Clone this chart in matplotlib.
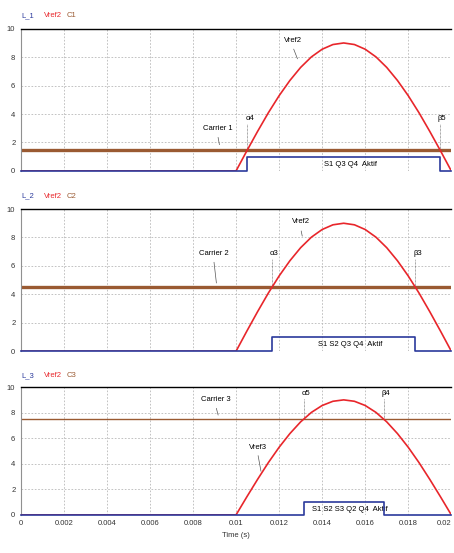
import matplotlib
matplotlib.use('Agg')
import matplotlib.pyplot as plt

# half-wave of the reference signal (time in s, value)
ref_time = [0.0, 0.0095, 0.0100, 0.0105, 0.0110, 0.0115, 0.0120, 0.0125, 0.0130,
            0.0135, 0.0140, 0.0145, 0.0150, 0.0155, 0.0160, 0.0165, 0.0170,
            0.0175, 0.0180, 0.0185, 0.0190, 0.0195, 0.0200]
ref_value = [0.0, 0.0, 0.0, 1.41, 2.78, 4.09, 5.29, 6.36, 7.28, 8.02, 8.56, 8.89, 9.0,
             8.89, 8.56, 8.02, 7.28, 6.36, 5.29, 4.09, 2.78, 1.41, 0.0]

carrier_levels = [1.5, 4.5, 7.5]
pulse_start = [0.01053, 0.01167, 0.01314]
pulse_end = [0.01947, 0.01833, 0.01686]
pulse_height = 1.0

legend_names = [['L_1', 'Vref2', 'C1'], ['L_2', 'Vref2', 'C2'], ['L_3', 'Vref2', 'C3']]
carrier_names = ['Carrier 1', 'Carrier 2', 'Carrier 3']
ref_names = ['Vref2', 'Vref2', 'Vref3']
alpha_names = ['\u03b14', '\u03b13', '\u03b15']
beta_names = ['\u03b25', '\u03b23', '\u03b24']
active_names = ['S1 Q3 Q4  Aktif', 'S1 S2 Q3 Q4  Aktif', 'S1 S2 S3 Q2 Q4  Aktif']

x_ticks = [0, 0.002, 0.004, 0.006, 0.008, 0.01, 0.012, 0.014, 0.016, 0.018, 0.02]
x_tick_labels = ['0', '0.002', '0.004', '0.006', '0.008', '0.01', '0.012', '0.014',
                 '0.016', '0.018', '0.02']
y_ticks = [0, 2, 4, 6, 8, 10]

RED = '#e8262b'
BLUE = '#2b3a9c'
BROWN = '#9a5a32'
FONT = ['Liberation Sans Narrow', 'Liberation Sans', 'DejaVu Sans']

plt.rcParams['font.family'] = FONT
plt.rcParams['font.size'] = 5.5

fig = plt.figure(figsize=(4.54, 5.53), dpi=100)
boxes = [[0.046, 0.691, 0.948, 0.257],
         [0.046, 0.365, 0.948, 0.257],
         [0.046, 0.069, 0.948, 0.231]]

# where the label texts sit in each panel (t, value)
carrier_text = [(0.00914, 3.0), (0.00896, 6.9), (0.00905, 9.0)]
carrier_tip = [(0.00925, 1.65), (0.0091, 4.6), (0.0092, 7.6)]
ref_text = [(0.01263, 9.2), (0.0130, 9.1), (0.0110, 5.3)]
ref_tip = [(0.01290, 7.7), (0.0131, 7.9), (0.01118, 3.2)]
label_y = [3.7, 6.9, 9.5]
active_y = [0.42, 0.45, 0.45]
carrier_width = [2.4, 2.4, 1.0]

for i, box in enumerate(boxes):
    ax = fig.add_axes(box)
    ax.set_xlim(0, 0.02)
    ax.set_ylim(0, 10)
    ax.grid(True, color='#b8b8b8', linestyle=(0, (2, 2)), linewidth=0.6)
    for side in ['right', 'bottom']:
        ax.spines[side].set_visible(False)
    ax.spines['top'].set_color('black')
    ax.spines['top'].set_linewidth(1.0)
    ax.spines['left'].set_color('#909090')
    ax.spines['left'].set_linewidth(0.8)

    ax.plot(ref_time, ref_value, color=RED, linewidth=1.2, zorder=3)
    ax.axhline(carrier_levels[i], color=BROWN, linewidth=carrier_width[i], zorder=2)

    px = [0, pulse_start[i], pulse_start[i], pulse_end[i], pulse_end[i], 0.02]
    py = [0, 0, pulse_height, pulse_height, 0, 0]
    ax.plot(px, py, color=BLUE, linewidth=1.2, zorder=4, clip_on=False)

    ax.text(*carrier_text[i], carrier_names[i], ha='center', va='center')
    ax.annotate('', xy=carrier_tip[i],
                xytext=(carrier_text[i][0], carrier_text[i][1] - 0.45),
                arrowprops=dict(arrowstyle='-', color='#555555', lw=0.5))
    ax.text(*ref_text[i], ref_names[i], ha='center', va='center')
    ax.annotate('', xy=ref_tip[i],
                xytext=(ref_text[i][0], ref_text[i][1] - 0.45),
                arrowprops=dict(arrowstyle='-', color='#555555', lw=0.5))

    ax.text(pulse_start[i] + 0.0001, label_y[i], alpha_names[i], ha='center', va='center')
    ax.text(pulse_end[i] + 0.0001, label_y[i], beta_names[i], ha='center', va='center')
    for t in (pulse_start[i], pulse_end[i]):
        ax.plot([t, t], [carrier_levels[i], label_y[i] - 0.4], color='#555555',
                linewidth=0.5, linestyle=(0, (1, 1)))

    ax.text((pulse_start[i] + pulse_end[i]) / 2 + 0.0003, active_y[i], active_names[i],
            ha='center', va='center', fontsize=5.5)

    ax.set_yticks(y_ticks)
    ax.tick_params(length=0, pad=4, labelsize=5.5, colors='#333333')
    ax.set_xticks(x_ticks)
    if i == 2:
        ax.set_xticklabels(x_tick_labels)
        ax.get_xticklabels()[-1].set_horizontalalignment('right')
        ax.set_xlabel('Time (s)', fontsize=5.5, color='#333333', labelpad=3)
    else:
        ax.set_xticklabels([])

    colors = [BLUE, RED, BROWN]
    for k, name in enumerate(legend_names[i]):
        ax.text(0.0 + k * 0.053, 1.09, name, transform=ax.transAxes, color=colors[k],
                ha='left', va='center', fontsize=5.5)

fig.savefig('out.png', dpi=100)
